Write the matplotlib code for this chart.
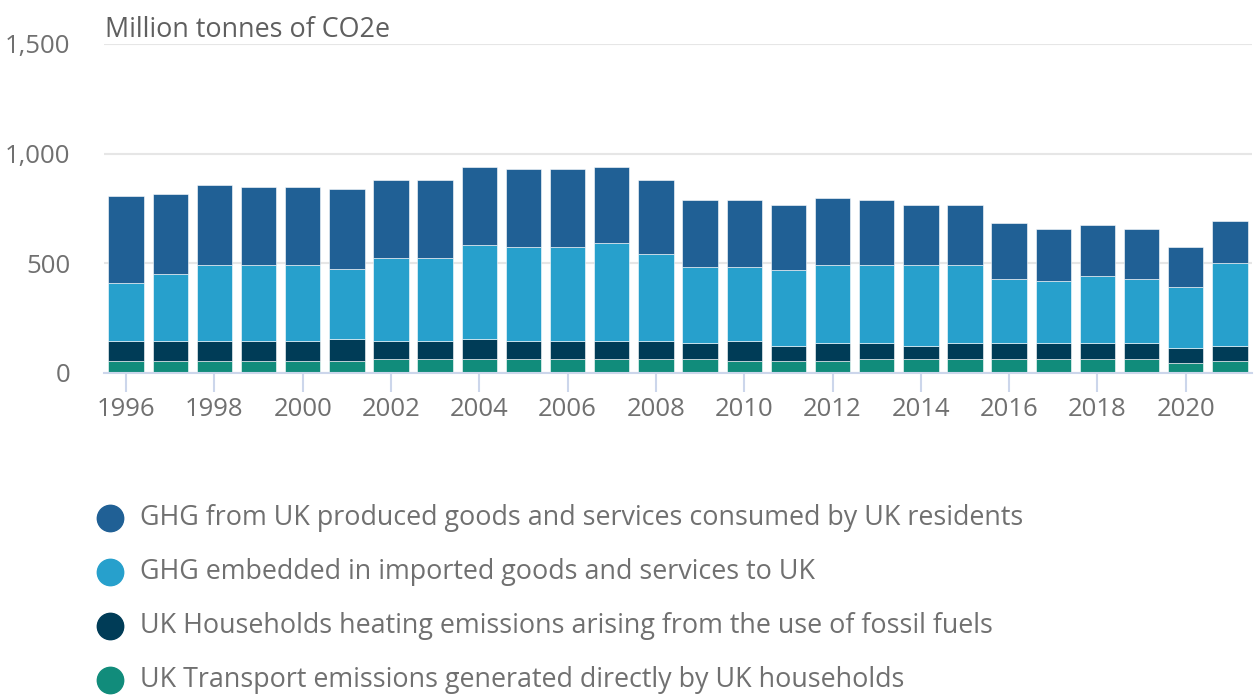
import matplotlib.pyplot as plt
from matplotlib.lines import Line2D
import numpy as np

plt.rcParams['font.family'] = ['Open Sans', 'DejaVu Sans']

years = list(range(1996, 2022))
# segment values, million tonnes CO2e
transport = [56, 56, 56, 56, 56, 56, 64, 64, 64, 64, 64, 64, 64,
             64, 56, 56, 56, 64, 64, 64, 64, 64, 64, 64, 45, 56]
heating = [89, 89, 89, 89, 89, 99, 81, 81, 91, 81, 81, 81, 81,
           71, 89, 68, 79, 71, 60, 71, 71, 71, 71, 71, 69, 68]
imported = [264, 307, 347, 347, 347, 318, 379, 379, 430, 428, 428, 449, 399,
            347, 337, 347, 357, 357, 368, 357, 295, 286, 306, 295, 277, 379]
uk_produced = [399, 366, 367, 356, 356, 365, 355, 355, 354, 356, 356, 345, 335,
               306, 306, 296, 305, 296, 275, 275, 255, 234, 233, 225, 182, 192]

series = [
    ("UK Transport emissions generated directly by UK households", transport, "#118c7b"),
    ("UK Households heating emissions arising from the use of fossil fuels", heating, "#003c57"),
    ("GHG embedded in imported goods and services to UK", imported, "#27a0cc"),
    ("GHG from UK produced goods and services consumed by UK residents", uk_produced, "#206095"),
]

W, H = 1256, 697
fig = plt.figure(figsize=(W / 100, H / 100), dpi=100)
ax = fig.add_axes([104 / W, 1 - 373 / H, 1148 / W, 329 / H])

x = np.arange(len(years))
bottom = np.zeros(len(years))
for name, vals, col in series:
    ax.bar(x, vals, bottom=bottom, width=0.8, color=col, edgecolor="white", linewidth=0.4, zorder=3)
    bottom += np.array(vals)

ax.set_xlim(-0.5, len(years) - 0.5)
ax.set_ylim(0, 1500)
ax.set_yticks([0, 500, 1000, 1500])
ax.set_yticklabels(["0", "500", "1,000", "1,500"])
ax.yaxis.grid(True, color="#e6e6e6", linewidth=1.5, zorder=0)
ax.tick_params(axis="y", length=0, pad=24, labelsize=18.5, labelcolor="#707070")

ticks = [i for i, y in enumerate(years) if y % 2 == 0]
ax.set_xticks(ticks)
ax.set_xticklabels([str(years[i]) for i in ticks])
ax.tick_params(axis="x", length=14, width=1.5, color="#ccd6eb", pad=3,
               labelsize=18.5, labelcolor="#707070")

for s in ["top", "right", "left"]:
    ax.spines[s].set_visible(False)
ax.spines["bottom"].set_color("#ccd6eb")
ax.spines["bottom"].set_linewidth(1.5)
ax.spines["bottom"].set_zorder(4)

fig.text(105 / W, 1 - 30 / H, "Million tonnes of CO2e", fontsize=19.4,
         color="#5f5f5f", va="center", ha="left")

# legend, top entry is last series
for k, (name, vals, col) in enumerate(reversed(series)):
    yy = 1 - (518 + 54 * k) / H
    fig.add_artist(Line2D([110 / W], [yy], marker="o", markersize=19, color=col,
                          linestyle="none", transform=fig.transFigure))
    fig.text(140 / W, yy, name, fontsize=19.4, color="#707070", va="center", ha="left")

fig.savefig("out.png", dpi=100)
